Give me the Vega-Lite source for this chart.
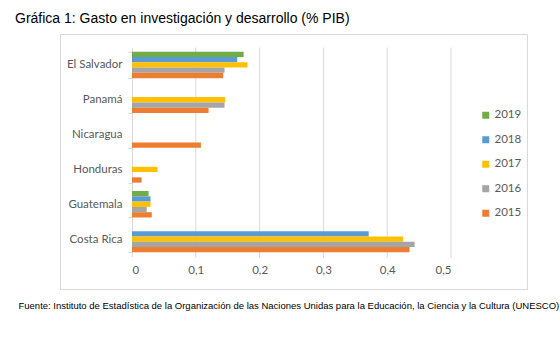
{
  "$schema": "https://vega.github.io/schema/vega-lite/v6.json",
  "width": 467,
  "height": 255,
  "autosize": {"type": "none"},
  "padding": {"left": 60, "top": 34, "right": 33, "bottom": 51},
  "background": "white",
  "view": {"stroke": "#d9d9d9", "strokeWidth": 1},
  "config": {"axis": {"titleFontWeight": "normal"}},
  "title": {
    "text": "Gráfica 1: Gasto en investigación y desarrollo (% PIB)",
    "anchor": "start",
    "frame": "group",
    "dx": -45,
    "dy": 20,
    "offset": 11,
    "baseline": "alphabetic",
    "font": "Liberation Sans",
    "fontSize": 14,
    "fontWeight": "normal",
    "color": "#000000"
  },
  "layer": [
    {
      "data": {"values": [{"t": 0.1}, {"t": 0.2}, {"t": 0.3}, {"t": 0.4}, {"t": 0.5}]},
      "mark": {"type": "rule", "color": "#d9d9d9", "strokeWidth": 1},
      "encoding": {
        "x": {"field": "t", "type": "quantitative", "scale": {"domain": [0, 0.5], "range": [72, 391]}},
        "y": {"datum": 0, "type": "quantitative", "scale": {"domain": [0, 1], "range": [13.5, 224]}, "axis": null},
        "y2": {"datum": 1}
      }
    },
    {
      "data": {
        "values": [
          {"pais": "El Salvador", "anio": "2019", "valor": 0.175},
          {"pais": "El Salvador", "anio": "2018", "valor": 0.165},
          {"pais": "El Salvador", "anio": "2017", "valor": 0.181},
          {"pais": "El Salvador", "anio": "2016", "valor": 0.145},
          {"pais": "El Salvador", "anio": "2015", "valor": 0.143},
          {"pais": "Panamá", "anio": "2017", "valor": 0.146},
          {"pais": "Panamá", "anio": "2016", "valor": 0.145},
          {"pais": "Panamá", "anio": "2015", "valor": 0.120},
          {"pais": "Nicaragua", "anio": "2015", "valor": 0.108},
          {"pais": "Honduras", "anio": "2017", "valor": 0.040},
          {"pais": "Honduras", "anio": "2015", "valor": 0.015},
          {"pais": "Guatemala", "anio": "2019", "valor": 0.026},
          {"pais": "Guatemala", "anio": "2018", "valor": 0.029},
          {"pais": "Guatemala", "anio": "2017", "valor": 0.029},
          {"pais": "Guatemala", "anio": "2016", "valor": 0.023},
          {"pais": "Guatemala", "anio": "2015", "valor": 0.031},
          {"pais": "Costa Rica", "anio": "2018", "valor": 0.371},
          {"pais": "Costa Rica", "anio": "2017", "valor": 0.425},
          {"pais": "Costa Rica", "anio": "2016", "valor": 0.443},
          {"pais": "Costa Rica", "anio": "2015", "valor": 0.435}
        ]
      },
      "mark": {"type": "bar"},
      "encoding": {
        "y": {
          "field": "pais",
          "type": "nominal",
          "sort": ["El Salvador", "Panamá", "Nicaragua", "Honduras", "Guatemala", "Costa Rica"],
          "scale": {"range": [13.5, 222.5], "paddingInner": 0.24, "paddingOuter": 0.12},
          "axis": {
            "title": null,
            "offset": -72,
            "domainColor": "#d9d9d9",
            "tickColor": "#d9d9d9",
            "tickBand": "extent",
            "tickSize": 4,
            "labelPadding": 6,
            "labelColor": "#595959",
            "labelFont": "Lato",
            "labelFontSize": 11.5,
            "grid": false
          }
        },
        "yOffset": {
          "field": "anio",
          "type": "nominal",
          "scale": {"domain": ["2019", "2018", "2017", "2016", "2015"], "paddingInner": 0}
        },
        "x": {
          "field": "valor",
          "type": "quantitative",
          "scale": {"domain": [0, 0.5], "range": [72, 391]},
          "axis": {
            "values": [0, 0.1, 0.2, 0.3, 0.4, 0.5],
            "labelExpr": "replace(format(datum.value, '.1~f'), '.', ',')",
            "offset": -32,
            "domain": false,
            "ticks": false,
            "grid": false,
            "labelPadding": 7,
            "labelColor": "#595959",
            "labelFont": "Lato",
            "labelFontSize": 11.5,
            "title": "Fuente: Instituto de Estadística de la Organización de las Naciones Unidas para la Educación, la Ciencia y la Cultura (UNESCO)",
            "titleFont": "Liberation Sans",
            "titleFontSize": 9.5,
            "titleFontWeight": 400,
            "titleColor": "#000000",
            "titleAlign": "left",
            "titleAnchor": "start",
            "titleBaseline": "middle",
            "titleX": -42,
            "titleY": 48.5
          }
        },
        "color": {
          "field": "anio",
          "type": "nominal",
          "scale": {
            "domain": ["2019", "2018", "2017", "2016", "2015"],
            "range": ["#70AD47", "#5B9BD5", "#FFC000", "#A5A5A5", "#ED7D31"]
          },
          "legend": {
            "title": null,
            "orient": "none",
            "legendX": 420,
            "legendY": 75.5,
            "padding": 0,
            "symbolType": "square",
            "symbolSize": 49,
            "symbolStrokeWidth": 0,
            "labelOffset": 3,
            "rowPadding": 11.5,
            "labelColor": "#595959",
            "labelFont": "Lato",
            "labelFontSize": 11.5
          }
        }
      }
    }
  ],
  "resolve": {"scale": {"y": "independent"}}
}
